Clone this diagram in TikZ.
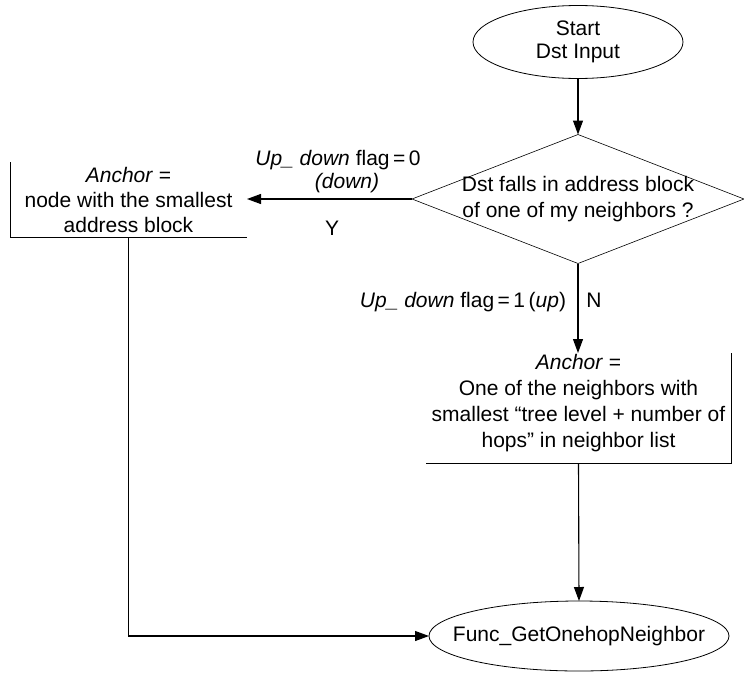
\documentclass[tikz,border=0pt]{standalone}
\usepackage{fontspec}
\setmainfont{Liberation Sans}
\usetikzlibrary{shapes.geometric,arrows.meta}
\begin{document}
\begin{tikzpicture}[x=1pt,y=-1pt,
  font=\fontsize{21}{25}\selectfont,
  every node/.style={inner sep=0pt,outer sep=0pt},
  terminal/.style={ellipse,draw,line width=0.8pt,align=center},
  decision/.style={diamond,draw,line width=0.6pt,aspect=2.6},
  actbox/.style={rectangle,align=center},
  boxedge/.style={line width=1pt},
  flow/.style={line width=1.1pt,-{Triangle[length=14pt,width=10pt]}},
  lbl/.style={align=center}]
\useasboundingbox (0,0) rectangle (744,672);

% terminals
\node[terminal,minimum width=210,minimum height=73] (start) at (578,42)
  {Start\\[-2pt]Dst Input};
\node[terminal,minimum width=300,minimum height=70] (end) at (579,636) {};
\node[lbl] (endtext) at (end.center) {Func\_GetOnehopNeighbor};

% decision
\node[decision,minimum width=332,minimum height=129] (dec) at (578,199) {};
\node[lbl] (dectext) at (dec.center) {Dst falls in address block\\[1pt]of one of my neighbors ?};

% action boxes (only the shadowed sides are drawn)
\node[actbox,minimum width=237,minimum height=75] (lbox) at (128.5,199.5)
  {\textit{Anchor} =\\node with the smallest\\address block};
\node[actbox,minimum width=305,minimum height=110] (rbox) at (578.5,408) {};
\node[lbl] (rtext) at (578.5,403)
  {\textit{Anchor} =\\[1pt]One of the neighbors with\\[1pt]smallest \char"201C tree level + number of\\[1pt]hops\char"201D\ in neighbor list};
\draw[boxedge] (lbox.north west) -- (lbox.south west) -- (lbox.south east);
\draw[boxedge] (rbox.north east) -- (rbox.south east) -- (rbox.south west);

% connectors
\draw[flow] (start.south) -- (dec.north);
\draw[flow] (dec.west) -- (dec.west -| lbox.east);
\draw[flow] (dec.south) -- (rbox.north -| dec.south);
\draw[flow] (rbox.south) -- (end.north);
\draw[flow] (lbox.south) |- (end.west);

% branch labels
\node[lbl] (ylabel1) at (338,160) {\textit{Up\_ down} flag\,=\,0};
\node[lbl] (ylabel2) at (347,183) {\textit{(down)}};
\node[lbl] (yes) at (332,228) {Y};
\node[lbl] (nlabel) at (463,302) {\textit{Up\_ down} flag\,=\,1\,(\textit{up})};
\node[lbl] (no) at (594,300) {N};
\end{tikzpicture}
\end{document}
